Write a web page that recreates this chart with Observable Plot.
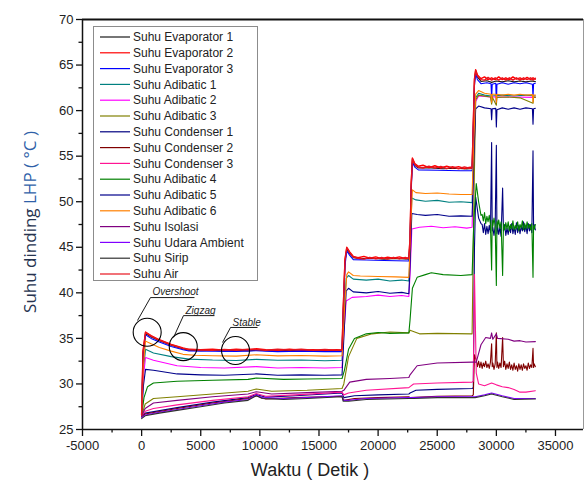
<!DOCTYPE html>
<html>
<head>
<meta charset="utf-8">
<script src="https://cdn.jsdelivr.net/npm/d3@7"></script>
<script src="https://cdn.jsdelivr.net/npm/@observablehq/plot@0.6"></script>
<style>
  body { margin: 0; background: #fff; }
  #chart { position: relative; width: 584px; height: 490px; }
</style>
</head>
<body>
<div id="chart"></div>
<script>
// Time axis ticks (seconds)
const xMajor = [-5000, 0, 5000, 10000, 15000, 20000, 25000, 30000, 35000];
const xMinor = [-2500, 2500, 7500, 12500, 17500, 22500, 27500, 32500];
const yMajor = [25, 30, 35, 40, 45, 50, 55, 60, 65, 70];
const yMinor = [27.5, 32.5, 37.5, 42.5, 47.5, 52.5, 57.5, 62.5, 67.5];

// Measured wall temperatures: [time (s), temperature (°C)]
const evaporator1 = [[0,26.6],[120,33.4],[330,35.55],[800,35.15],[1500,34.75],[2500,34.25],[3500,33.85],[4000,33.7],[5000,33.65],[6000,33.7],[7000,33.6],[8000,33.68],[9000,33.62],[9700,33.72],[10500,33.66],[11500,33.6],[12500,33.68],[13500,33.62],[14500,33.66],[15500,33.6],[16500,33.66],[16950,33.62],[17050,38],[17200,43.4],[17350,44.8],[17600,44.3],[17900,43.85],[18500,43.75],[19500,43.8],[20500,43.7],[21500,43.78],[22600,43.68],[22700,45.8],[22800,51.8],[22900,54.6],[23100,54.0],[23400,53.7],[24500,53.72],[25500,53.62],[26500,53.68],[27500,53.6],[27950,53.65],[28050,58.2],[28150,63.2],[28250,64.3],[28400,63.7],[28700,63.2],[29200,63.28],[29600,63.1],[30000,63.25],[30500,63.15],[31000,63.28],[31500,63.15],[32000,63.25],[32500,63.15],[33000,63.25],[33300,63.18]];
const evaporator2 = [[0,26.6],[120,33.6],[330,35.7],[800,35.3],[1500,34.85],[2500,34.35],[3500,33.95],[4000,33.8],[5000,33.75],[6000,33.82],[7000,33.7],[8000,33.8],[9000,33.72],[9700,33.86],[10500,33.75],[11500,33.7],[12500,33.8],[13500,33.7],[14500,33.76],[15500,33.68],[16500,33.76],[16950,33.7],[17050,38.2],[17200,43.7],[17350,45.0],[17600,44.5],[17900,44.0],[18300,43.85],[18800,44.0],[19300,43.8],[19800,43.95],[20300,43.75],[20800,43.9],[21300,43.8],[21800,43.95],[22300,43.75],[22600,43.85],[22700,46],[22800,52],[22900,54.8],[23100,54.2],[23400,53.9],[23800,54.0],[24300,53.75],[24800,53.95],[25300,53.7],[25800,53.9],[26300,53.7],[26800,53.85],[27300,53.65],[27800,53.8],[27950,53.7],[28050,58.5],[28150,63.5],[28250,64.5],[28400,63.9],[28700,63.5],[29000,63.7],[29300,63.4],[29600,63.6],[29900,63.4],[30200,63.7],[30500,63.4],[30800,63.6],[31100,63.4],[31400,63.7],[31700,63.45],[32000,63.6],[32300,63.4],[32600,63.65],[32900,63.4],[33100,63.6],[33300,63.45]];
const evaporator3 = [[0,26.5],[120,33.0],[330,35.4],[800,35.0],[1500,34.6],[2500,34.1],[3500,33.75],[4000,33.62],[6000,33.6],[8000,33.58],[9700,33.65],[11500,33.55],[13500,33.6],[15500,33.55],[16950,33.55],[17050,37.5],[17200,43.0],[17350,44.6],[17600,44.1],[17900,43.65],[19000,43.6],[20500,43.55],[22600,43.5],[22700,45.2],[22800,51.2],[22900,54.3],[23100,53.8],[23400,53.5],[25000,53.45],[27000,53.4],[27950,53.4],[28050,57.8],[28150,62.8],[28250,64.0],[28400,63.4],[28700,62.95],[29200,63.05],[29550,62.95],[29600,61.3],[29650,62.9],[29950,63.0],[30000,60.7],[30050,62.9],[30500,63.05],[31000,62.9],[31500,63.05],[32000,62.95],[32500,63.05],[33050,62.9],[33100,61.5],[33150,62.95],[33300,63.0]];
const adibatic1 = [[0,26.5],[150,31.5],[330,33.8],[1000,33.4],[2500,33.0],[4000,32.72],[6000,32.62],[8000,32.58],[9700,32.7],[11500,32.6],[13500,32.62],[15500,32.55],[16950,32.6],[17100,37],[17300,41.6],[17500,41.9],[17900,41.5],[19000,41.4],[20000,41.5],[21000,41.3],[22000,41.4],[22600,41.3],[22700,44],[22850,50.4],[23200,50.2],[24000,50.05],[25000,50.15],[26000,49.95],[27000,50.0],[27950,49.9],[28100,56],[28250,61.4],[28500,61.9],[29000,61.7],[29550,61.6],[29600,60.8],[29650,61.6],[30500,61.7],[31500,61.6],[32500,61.7],[33300,61.6]];
const adibatic2 = [[0,26.5],[150,30.8],[330,32.9],[1000,32.6],[3000,32.0],[5000,31.8],[7000,31.75],[9700,31.9],[11500,31.75],[13500,31.8],[15500,31.75],[16950,31.8],[17100,35.5],[17300,39.1],[17800,39.5],[19000,39.6],[20000,39.75],[21000,39.6],[22000,39.7],[22600,39.6],[22700,42],[22850,47.0],[23500,47.2],[24500,47.3],[25500,47.15],[26500,47.25],[27500,47.1],[27950,47.2],[28100,55],[28250,61.0],[28500,61.6],[29500,61.5],[31000,61.5],[33300,61.45]];
const adibatic3 = [[0,26.5],[300,27.8],[1000,28.4],[3000,28.6],[6000,28.9],[9000,29.2],[9700,29.45],[11000,29.2],[14000,29.3],[16950,29.5],[17100,30.0],[17500,33.0],[18200,35.0],[19500,35.5],[21000,35.7],[22600,35.6],[22700,35.9],[23500,35.5],[25000,35.55],[27950,35.5],[28100,50],[28250,61.2],[28500,61.7],[29500,61.5],[29600,60.7],[29650,61.5],[30000,60.6],[30050,61.45],[31000,61.5],[32000,61.4],[33100,60.8],[33150,61.5],[33300,61.45]];
const condenser1 = [[0,26.4],[300,26.8],[3000,27.4],[6000,28.0],[9000,28.5],[9700,28.85],[10500,28.55],[13000,28.7],[16950,29.0],[17100,28.5],[18000,28.7],[20000,28.8],[22600,28.9],[22700,29.0],[23200,29.3],[25000,29.4],[27950,29.5],[28050,29.6],[28150,45],[28250,50.5],[28500,48.2],[28700,47.6],[28800,47.5],[28900,46.6],[29000,47.6],[29100,46.4],[29200,47.3],[29300,46.5],[29400,47.4],[29500,46.6],[29600,56.5],[29650,46.8],[29700,47.2],[29800,46.3],[29900,47.3],[30000,56.2],[30050,46.5],[30100,47.4],[30200,46.4],[30300,47.2],[30400,46.2],[30530,51.5],[30600,46.8],[30700,47.5],[30800,46.3],[30900,47.1],[31000,46.4],[31100,47.3],[31200,46.6],[31300,47.6],[31400,46.5],[31500,47.2],[31600,46.4],[31700,47.7],[31800,46.6],[31900,47.4],[32000,46.5],[32100,47.3],[32200,46.8],[32300,47.8],[32400,46.7],[32500,47.4],[32600,46.5],[32700,47.6],[32800,46.8],[32900,47.5],[33000,46.6],[33100,55.6],[33150,46.9],[33200,47.5],[33300,46.9]];
const condenser2 = [[0,26.4],[300,26.7],[3000,27.3],[6000,27.9],[9000,28.4],[9700,28.7],[10500,28.35],[13000,28.5],[16950,28.65],[17100,28.2],[18000,28.4],[20000,28.5],[22600,28.6],[22700,28.5],[25000,28.65],[27950,28.7],[28050,28.8],[28150,33.2],[28300,32.6],[28400,31.9],[28500,32.5],[28600,31.8],[28700,32.4],[28800,31.7],[28900,32.3],[29000,31.9],[29100,32.5],[29200,31.8],[29300,32.2],[29400,31.7],[29500,32.4],[29600,34.4],[29650,31.9],[29700,32.3],[29800,31.6],[29900,32.2],[30000,35.6],[30050,31.8],[30100,32.4],[30200,31.7],[30300,32.3],[30400,31.8],[30530,35.1],[30600,31.9],[30700,32.5],[30800,31.6],[30900,32.2],[31000,31.7],[31100,32.4],[31200,31.6],[31300,32.1],[31400,31.5],[31500,32.3],[31600,31.6],[31700,32.0],[31800,31.4],[31900,32.2],[32000,31.6],[32100,32.1],[32200,31.5],[32300,32.2],[32400,31.7],[32500,32.0],[32600,31.5],[32700,32.3],[32800,31.7],[32900,32.1],[33000,31.8],[33100,33.9],[33150,31.8],[33200,32.2],[33300,31.9]];
const condenser3 = [[0,26.5],[300,27.0],[1000,27.3],[3000,27.7],[6000,28.2],[9000,28.6],[9700,28.95],[10500,28.65],[13000,28.8],[16950,29.1],[17100,28.8],[17500,29.0],[19000,29.3],[22600,29.6],[22700,29.7],[23000,30.0],[25000,30.1],[27950,30.2],[28050,30.3],[28150,42],[28300,31.2],[28500,30.0],[29000,29.8],[29600,30.1],[30000,29.9],[30500,29.7],[31000,29.6],[31500,29.4],[32000,29.1],[32500,29.1],[33300,29.25]];
const adibatic4 = [[0,26.5],[200,28.5],[500,29.7],[1000,30.1],[3000,30.3],[6000,30.4],[9000,30.5],[9700,30.65],[12000,30.5],[14000,30.55],[16950,30.6],[17150,31.5],[17500,33.8],[18000,35.0],[19000,35.5],[20000,35.65],[21000,35.55],[22600,35.6],[22700,37],[22900,40.5],[23300,41.7],[24000,42.0],[24500,42.2],[25500,42.0],[27000,41.9],[27950,42.0],[28100,48],[28300,52],[28500,50],[28700,48.5],[28800,48.6],[28900,47.9],[29000,48.8],[29100,47.6],[29200,48.4],[29300,47.8],[29400,48.5],[29500,47.5],[29600,42.5],[29650,48.0],[29700,47.3],[29800,48.2],[29900,47.4],[30000,40.8],[30050,47.9],[30100,47.2],[30200,48.0],[30300,47.1],[30400,47.8],[30530,41.9],[30600,47.6],[30700,46.9],[30800,47.7],[30900,47.0],[31000,47.8],[31100,46.8],[31200,47.5],[31300,47.0],[31400,47.9],[31500,46.9],[31600,47.4],[31700,47.0],[31800,47.8],[31900,46.8],[32000,47.5],[32100,47.1],[32200,47.9],[32300,46.9],[32400,47.6],[32500,47.0],[32600,47.8],[32700,47.1],[32800,47.5],[32900,46.9],[33000,47.6],[33100,41.7],[33150,47.4],[33200,47.0],[33300,47.5]];
const adibatic5 = [[0,26.5],[150,29.8],[330,31.6],[1000,31.5],[3000,31.1],[5000,31.0],[7000,30.95],[9700,31.1],[11500,30.95],[13500,31.0],[15500,30.95],[16950,31.0],[17100,35],[17300,40.2],[17500,40.5],[17900,40.1],[19000,40.0],[20000,40.15],[21000,39.95],[22000,40.05],[22600,39.9],[22700,43],[22850,48.7],[23300,48.6],[24000,48.5],[25000,48.6],[26000,48.4],[27000,48.45],[27950,48.4],[28100,55],[28250,60.2],[28500,60.5],[29000,60.3],[29550,60.2],[29600,59.0],[29650,60.2],[29950,60.25],[30000,58.2],[30050,60.1],[30500,60.3],[31000,60.15],[31500,60.3],[32000,60.15],[32500,60.3],[33050,60.2],[33100,58.5],[33150,60.2],[33300,60.25]];
const adibatic6 = [[0,26.5],[150,32.0],[330,34.7],[800,34.4],[1500,34.0],[2500,33.6],[3500,33.25],[4500,33.15],[6000,33.1],[8000,33.05],[9700,33.2],[11500,33.08],[13500,33.12],[15500,33.05],[16950,33.1],[17150,38],[17350,42.0],[17500,42.3],[17900,41.9],[18500,41.85],[20000,41.8],[21500,41.75],[22600,41.7],[22750,47],[22900,51.3],[23200,51.0],[24000,50.9],[25000,50.95],[26000,50.85],[27000,50.8],[27950,50.8],[28100,57],[28250,61.8],[28500,62.2],[29000,61.9],[29550,61.8],[29600,60.9],[29650,61.8],[29950,61.8],[30000,60.9],[30050,61.8],[30500,61.7],[31000,61.8],[31500,61.7],[32000,61.8],[32500,61.7],[33050,61.75],[33100,60.9],[33150,61.7],[33300,61.7]];
const isolasi = [[0,26.5],[300,27.3],[1000,27.9],[3000,28.2],[6000,28.6],[9000,28.9],[9700,29.15],[11000,28.9],[14000,29.05],[16950,29.2],[17100,29.3],[17600,30.2],[19000,30.5],[21000,30.6],[22600,30.7],[22700,31.0],[23300,32.0],[25000,32.3],[27950,32.4],[28300,32.4],[28700,34.3],[29100,35.1],[29500,35.0],[29600,35.6],[29700,34.9],[30000,35.5],[30100,35.0],[31000,34.9],[31500,34.7],[32000,34.75],[32500,34.6],[33300,34.65]];
const udaraAmbient = [[0,26.3],[300,26.6],[1500,26.9],[3000,27.2],[5000,27.6],[7000,28.0],[9000,28.3],[9700,28.8],[10200,28.5],[12000,28.4],[14000,28.5],[16950,28.7],[17050,28.2],[17500,28.2],[19000,28.4],[22600,28.5],[23000,28.5],[25000,28.6],[27950,28.6],[28200,28.6],[29000,28.8],[29600,29.0],[30500,28.7],[31500,28.4],[33300,28.4]];
const sirip = [[0,26.2],[300,26.5],[1500,26.8],[3000,27.1],[5000,27.5],[7000,27.9],[9000,28.2],[9700,28.7],[10200,28.4],[12000,28.3],[14000,28.4],[16950,28.6],[17050,28.1],[17500,28.1],[19000,28.3],[22600,28.4],[23000,28.4],[25000,28.5],[27950,28.5],[28200,28.5],[29000,28.7],[29600,28.9],[30500,28.6],[31500,28.3],[33300,28.35]];
const air = [[0,26.6],[120,33.5],[330,35.65],[800,35.25],[1500,34.8],[2500,34.3],[3500,33.9],[4000,33.78],[5000,33.72],[6000,33.68],[7000,33.78],[8000,33.7],[9000,33.8],[9700,33.78],[10500,33.7],[11500,33.8],[12500,33.72],[13500,33.8],[14500,33.7],[15500,33.78],[16500,33.7],[16950,33.75],[17050,38.1],[17200,43.6],[17350,44.95],[17600,44.4],[17900,43.95],[18300,43.8],[18800,43.7],[19300,43.9],[19800,43.72],[20300,43.88],[20800,43.7],[21300,43.9],[21800,43.72],[22300,43.88],[22600,43.75],[22700,45.9],[22800,51.9],[22900,54.7],[23100,54.1],[23400,53.8],[23800,53.7],[24300,53.9],[24800,53.68],[25300,53.88],[25800,53.65],[26300,53.85],[26800,53.62],[27300,53.82],[27800,53.65],[27950,53.75],[28050,58.4],[28150,63.4],[28250,64.4],[28400,63.8],[28700,63.4],[29000,63.35],[29300,63.65],[29600,63.35],[29900,63.6],[30200,63.35],[30500,63.6],[30800,63.35],[31100,63.6],[31400,63.35],[31700,63.6],[32000,63.35],[32300,63.6],[32600,63.4],[32900,63.6],[33100,63.35],[33300,63.55]];

const seriesNames = ["Suhu Evaporator 1","Suhu Evaporator 2","Suhu Evaporator 3","Suhu Adibatic 1","Suhu Adibatic 2","Suhu Adibatic 3","Suhu Condenser 1","Suhu Condenser 2","Suhu Condenser 3","Suhu Adibatic 4","Suhu Adibatic 5","Suhu Adibatic 6","Suhu Isolasi","Suhu Udara Ambient","Suhu Sirip","Suhu Air"];
const seriesColors = ["#1a1a1a","#ff0000","#0000ff","#008080","#ff00ff","#808000","#000080","#800000","#ff1493","#008000","#00008b","#ff8000","#800080","#8000ff","#303030","#e8141e"];
const seriesValues = [evaporator1, evaporator2, evaporator3, adibatic1, adibatic2, adibatic3, condenser1, condenser2, condenser3, adibatic4, adibatic5, adibatic6, isolasi, udaraAmbient, sirip, air];

// Callouts on the first heating stage
const calloutCircles = [{t: 470, v: 35.68}, {t: 3520, v: 34.1}, {t: 7940, v: 33.67}];
const calloutLabels = [{t: 920, v: 39.8, text: "Overshoot"}, {t: 3710, v: 37.72, text: "Zigzag"}, {t: 7690, v: 36.4, text: "Stable"}];
const calloutUnderlines = [{t1: 750, t2: 4470, v: 39.48}, {t1: 3540, t2: 6160, v: 37.5}, {t1: 7520, t2: 9800, v: 36.2}];
const calloutLeaders = [{t1: 750, v1: 39.48, t2: -350, v2: 36.96}, {t1: 3540, v1: 37.5, t2: 2700, v2: 35.1}, {t1: 7520, v1: 36.2, t2: 6840, v2: 34.55}];

const xMax = 37370;

const rows = seriesValues.flatMap((pts, i) => pts.map(([t, v]) => ({t, v, s: seriesNames[i]})));

const lineMarks = seriesNames.map((name, i) =>
  Plot.line(rows.filter(d => d.s === name), {
    x: "t", y: "v", stroke: seriesColors[i],
    strokeWidth: (i === 1 || i === 15) ? 1.4 : 1.1
  })
);

const plot = Plot.plot({
  width: 584,
  height: 490,
  marginLeft: 82,
  marginRight: 1,
  marginTop: 19,
  marginBottom: 61,
  style: {fontFamily: "'Liberation Sans', Arial, sans-serif", fontSize: "13px", color: "#222", background: "#fff", overflow: "visible"},
  x: {domain: [-5000, xMax]},
  y: {domain: [25, 70]},
  marks: [
    ...lineMarks,
    Plot.dot(calloutCircles, {x: "t", y: "v", r: 14, stroke: "#000", fill: "none", strokeWidth: 1.1}),
    Plot.link(calloutUnderlines, {x1: "t1", x2: "t2", y1: "v", y2: "v", stroke: "#000", strokeWidth: 0.9}),
    Plot.link(calloutLeaders, {x1: "t1", y1: "v1", x2: "t2", y2: "v2", stroke: "#000", strokeWidth: 0.9}),
    Plot.text(calloutLabels, {x: "t", y: "v", text: "text", textAnchor: "start", lineAnchor: "bottom", fontStyle: "italic", fontSize: 10, fill: "#222"}),
    // frame
    Plot.ruleY([70], {stroke: "#111", strokeWidth: 2}),
    Plot.ruleX([xMax], {stroke: "#999", strokeWidth: 1}),
    Plot.ruleX([-5000], {stroke: "#111", strokeWidth: 1.5}),
    Plot.ruleY([25], {stroke: "#111", strokeWidth: 1.5}),
    // axes
    Plot.axisX(xMinor, {tickSize: 3.5, text: null, stroke: "#111", strokeWidth: 1.3}),
    Plot.axisX(xMajor, {tickSize: 7, tickPadding: 4, tickFormat: d => String(d), label: null, stroke: "#111", strokeWidth: 1.3, fontSize: 13}),
    Plot.axisY(yMinor, {tickSize: 3.5, text: null, stroke: "#111", strokeWidth: 1.3}),
    Plot.axisY(yMajor, {tickSize: 6, tickPadding: 3, tickFormat: d => String(d), label: null, stroke: "#111", strokeWidth: 1.3, fontSize: 13})
  ]
});

const svg = d3.select(plot);
// axis titles
svg.append("text")
  .attr("x", 310).attr("y", 476)
  .attr("text-anchor", "middle")
  .attr("font-family", "'Liberation Sans', Arial, sans-serif")
  .attr("font-size", 18).attr("fill", "#222")
  .text("Waktu ( Detik )");
const yt = svg.append("text")
  .attr("transform", "translate(36,222) rotate(-90)")
  .attr("text-anchor", "middle")
  .attr("font-family", "'Open Sans', sans-serif")
  .attr("font-size", 17);
yt.append("tspan").attr("fill", "#26334f").text("Suhu dinding ");
yt.append("tspan").attr("fill", "#2f5fa8").text("LHP ( °C )");

// legend box inside the plot area
const lg = svg.append("g")
  .attr("font-family", "'Liberation Sans', Arial, sans-serif")
  .attr("font-size", 12)
  .attr("text-anchor", "start");
lg.append("rect").attr("x", 93.5).attr("y", 26.5).attr("width", 164).attr("height", 254)
  .attr("fill", "#fff").attr("stroke", "#8c8c8c").attr("stroke-width", 1);
seriesNames.forEach((name, i) => {
  const cy = 37 + i * 15.8;
  lg.append("line").attr("x1", 100).attr("x2", 130).attr("y1", cy).attr("y2", cy)
    .attr("stroke", seriesColors[i]).attr("stroke-width", 1.2);
  lg.append("text").attr("x", 133).attr("y", cy).attr("dy", "0.35em")
    .attr("text-anchor", "start").attr("fill", "#222").text(name);
});

document.getElementById("chart").appendChild(plot);
</script>
</body>
</html>
